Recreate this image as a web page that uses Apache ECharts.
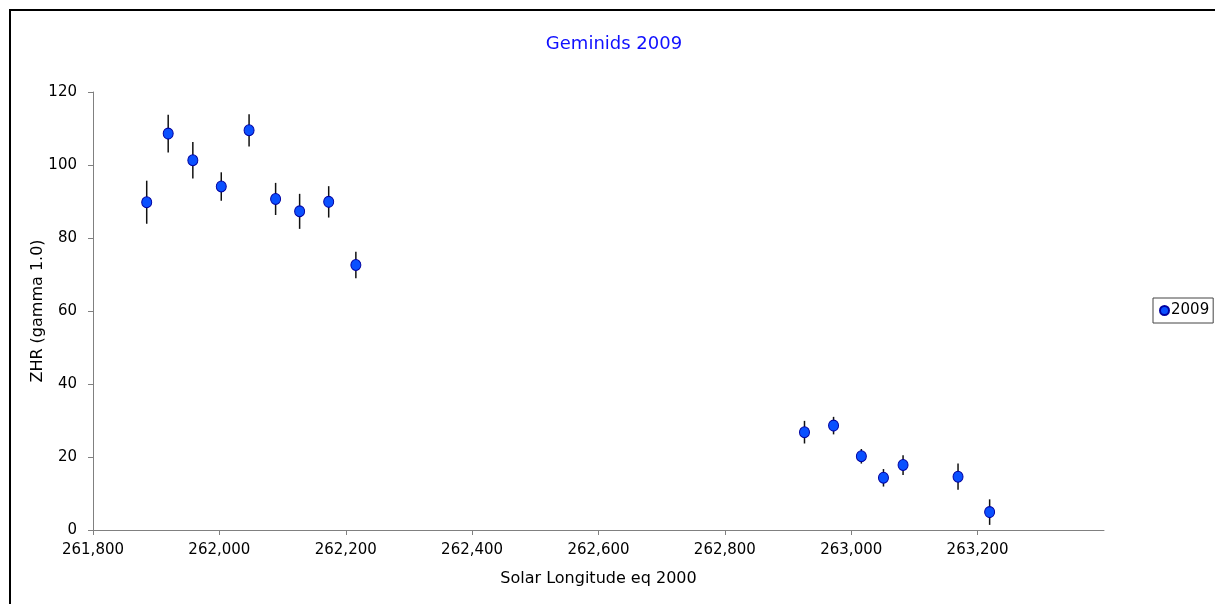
<!DOCTYPE html>
<html>
<head>
<meta charset="utf-8">
<script src="https://cdn.jsdelivr.net/npm/echarts@6/dist/echarts.min.js"></script>
<style>
    html, body { margin: 0; padding: 0; background: #fff; }
    #chart { width: 1215px; height: 604px; }
</style>
</head>
<body>
<div id="chart"></div>
<script>
    // solar longitude (x1000) and ZHR with error bars
    var solLong = [261885, 261919, 261958, 262003, 262047, 262089, 262127, 262173, 262216,
                   262926, 262972, 263016, 263051, 263082, 263169, 263219];
    var zhr = [89.8, 108.6, 101.3, 94.1, 109.5, 90.7, 87.3, 89.9, 72.6,
               26.8, 28.6, 20.2, 14.3, 17.8, 14.6, 4.9];
    var zhrErr = [5.9, 5.2, 5.0, 3.9, 4.4, 4.4, 4.8, 4.3, 3.6,
                  3.1, 2.4, 2.0, 2.4, 2.7, 3.6, 3.5];
    var seriesName = '2009';

    var fontFam = '"DejaVu Sans", Verdana, sans-serif';

    var points = [];
    var bars = [];
    for (var i = 0; i < solLong.length; i++) {
        points.push([solLong[i], zhr[i]]);
        bars.push([solLong[i], zhr[i] - zhrErr[i], zhr[i] + zhrErr[i]]);
    }

    var chart = echarts.init(document.getElementById('chart'));
    var option = {
        backgroundColor: '#fff',
        animation: false,
        title: {
            text: 'Geminids 2009',
            left: 609,
            top: 30,
            textAlign: 'center',
            textStyle: { color: '#1010ff', fontFamily: fontFam, fontSize: 18, fontWeight: 'normal' }
        },
        legend: {
            left: 1153,
            top: 298,
            orient: 'vertical',
            data: [seriesName],
            icon: 'circle',
            itemWidth: 9,
            itemHeight: 9,
            itemGap: 0,
            padding: [5, 4, 5, 6],
            borderColor: '#444',
            borderWidth: 1,
            borderRadius: 0,
            textStyle: { color: '#000', fontFamily: fontFam, fontSize: 15, padding: [0, 0, 0, -3] }
        },
        grid: { left: 93, right: 111, top: 92, bottom: 74 },
        xAxis: {
            type: 'value',
            min: 261800,
            max: 263400,
            interval: 200,
            name: 'Solar Longitude eq 2000',
            nameLocation: 'middle',
            nameGap: 41,
            nameMoveOverlap: false,
            nameTextStyle: { color: '#000', fontFamily: fontFam, fontSize: 16 },
            axisLine: { lineStyle: { color: '#808080', width: 1 } },
            axisTick: { show: true, length: 5, lineStyle: { color: '#808080' } },
            splitLine: { show: false },
            axisLabel: {
                color: '#000', fontFamily: fontFam, fontSize: 15, margin: 13,
                showMaxLabel: false,
                formatter: function (v) { return v >= 263400 ? '' : v.toLocaleString('en-US'); }
            }
        },
        yAxis: {
            type: 'value',
            min: 0,
            max: 120,
            interval: 20,
            name: 'ZHR (gamma 1.0)',
            nameLocation: 'middle',
            nameGap: 47,
            nameMoveOverlap: false,
            nameTextStyle: { color: '#000', fontFamily: fontFam, fontSize: 16 },
            axisLine: { show: true, lineStyle: { color: '#808080', width: 1 } },
            axisTick: { show: true, length: 5, lineStyle: { color: '#808080' } },
            splitLine: { show: false },
            axisLabel: { color: '#000', fontFamily: fontFam, fontSize: 15, margin: 16 }
        },
        graphic: [{
            type: 'rect',
            shape: { x: 10, y: 10, width: 1300, height: 700 },
            style: { fill: 'none', stroke: '#000', lineWidth: 2 },
            silent: true
        }],
        series: [{
            name: 'errbars',
            type: 'custom',
            z: 1,
            data: bars,
            renderItem: function (params, api) {
                var lo = api.coord([api.value(0), api.value(1)]);
                var hi = api.coord([api.value(0), api.value(2)]);
                return {
                    type: 'line',
                    shape: { x1: lo[0], y1: lo[1], x2: hi[0], y2: hi[1] },
                    style: { stroke: '#111', lineWidth: 1.5 }
                };
            }
        }, {
            name: seriesName,
            type: 'scatter',
            z: 2,
            symbol: 'circle',
            symbolSize: [10, 11],
            itemStyle: { color: '#0a50ff', borderColor: '#0000a0', borderWidth: 1, opacity: 1 },
            data: points
        }]
    };
    chart.setOption(option);
</script>
</body>
</html>
